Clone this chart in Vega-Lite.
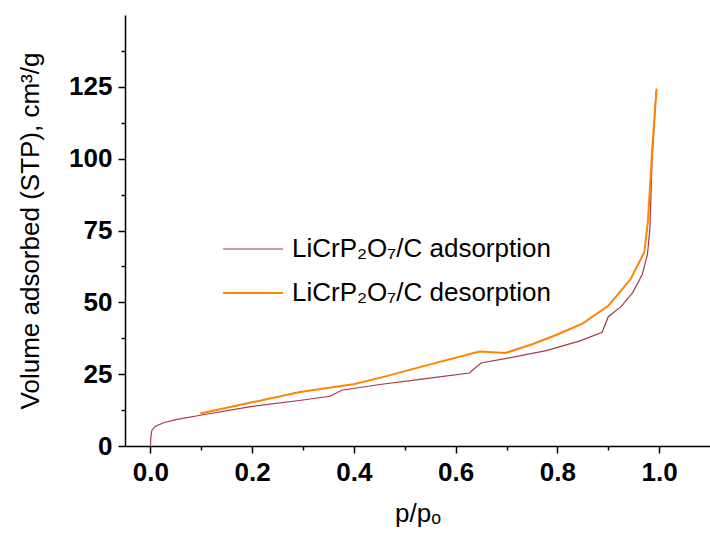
{
  "$schema": "https://vega.github.io/schema/vega-lite/v6.json",
  "autosize": {"type": "none"},
  "padding": {"left": 125, "top": 15, "right": 0, "bottom": 92},
  "width": 585,
  "height": 431,
  "background": "white",
  "config": {
    "view": {"stroke": null},
    "font": "Liberation Sans"
  },
  "data": {
    "values": [
      {"p": 0.0, "v": 0.0, "series": "LiCrP₂O₇/C adsorption"},
      {"p": 0.001, "v": 3.5, "series": "LiCrP₂O₇/C adsorption"},
      {"p": 0.003, "v": 5.5, "series": "LiCrP₂O₇/C adsorption"},
      {"p": 0.01, "v": 6.9, "series": "LiCrP₂O₇/C adsorption"},
      {"p": 0.026, "v": 8.1, "series": "LiCrP₂O₇/C adsorption"},
      {"p": 0.05, "v": 9.2, "series": "LiCrP₂O₇/C adsorption"},
      {"p": 0.098, "v": 10.7, "series": "LiCrP₂O₇/C adsorption"},
      {"p": 0.2, "v": 13.8, "series": "LiCrP₂O₇/C adsorption"},
      {"p": 0.3, "v": 16.0, "series": "LiCrP₂O₇/C adsorption"},
      {"p": 0.353, "v": 17.3, "series": "LiCrP₂O₇/C adsorption"},
      {"p": 0.376, "v": 19.4, "series": "LiCrP₂O₇/C adsorption"},
      {"p": 0.451, "v": 21.4, "series": "LiCrP₂O₇/C adsorption"},
      {"p": 0.53, "v": 23.2, "series": "LiCrP₂O₇/C adsorption"},
      {"p": 0.627, "v": 25.4, "series": "LiCrP₂O₇/C adsorption"},
      {"p": 0.65, "v": 28.9, "series": "LiCrP₂O₇/C adsorption"},
      {"p": 0.7, "v": 30.5, "series": "LiCrP₂O₇/C adsorption"},
      {"p": 0.778, "v": 33.2, "series": "LiCrP₂O₇/C adsorption"},
      {"p": 0.843, "v": 36.5, "series": "LiCrP₂O₇/C adsorption"},
      {"p": 0.888, "v": 39.6, "series": "LiCrP₂O₇/C adsorption"},
      {"p": 0.9, "v": 45.0, "series": "LiCrP₂O₇/C adsorption"},
      {"p": 0.925, "v": 48.5, "series": "LiCrP₂O₇/C adsorption"},
      {"p": 0.948, "v": 53.4, "series": "LiCrP₂O₇/C adsorption"},
      {"p": 0.967, "v": 59.8, "series": "LiCrP₂O₇/C adsorption"},
      {"p": 0.977, "v": 66.7, "series": "LiCrP₂O₇/C adsorption"},
      {"p": 0.982, "v": 75.9, "series": "LiCrP₂O₇/C adsorption"},
      {"p": 0.986, "v": 99.0, "series": "LiCrP₂O₇/C adsorption"},
      {"p": 0.99, "v": 110.6, "series": "LiCrP₂O₇/C adsorption"},
      {"p": 0.994, "v": 123.5, "series": "LiCrP₂O₇/C adsorption"},
      {"p": 0.098, "v": 11.3, "series": "LiCrP₂O₇/C desorption"},
      {"p": 0.2, "v": 15.2, "series": "LiCrP₂O₇/C desorption"},
      {"p": 0.294, "v": 18.8, "series": "LiCrP₂O₇/C desorption"},
      {"p": 0.399, "v": 21.5, "series": "LiCrP₂O₇/C desorption"},
      {"p": 0.451, "v": 23.7, "series": "LiCrP₂O₇/C desorption"},
      {"p": 0.55, "v": 28.4, "series": "LiCrP₂O₇/C desorption"},
      {"p": 0.647, "v": 32.9, "series": "LiCrP₂O₇/C desorption"},
      {"p": 0.698, "v": 32.4, "series": "LiCrP₂O₇/C desorption"},
      {"p": 0.752, "v": 35.5, "series": "LiCrP₂O₇/C desorption"},
      {"p": 0.8, "v": 38.8, "series": "LiCrP₂O₇/C desorption"},
      {"p": 0.85, "v": 42.7, "series": "LiCrP₂O₇/C desorption"},
      {"p": 0.9, "v": 48.8, "series": "LiCrP₂O₇/C desorption"},
      {"p": 0.944, "v": 58.1, "series": "LiCrP₂O₇/C desorption"},
      {"p": 0.971, "v": 67.5, "series": "LiCrP₂O₇/C desorption"},
      {"p": 0.978, "v": 78.2, "series": "LiCrP₂O₇/C desorption"},
      {"p": 0.987, "v": 104.8, "series": "LiCrP₂O₇/C desorption"},
      {"p": 0.995, "v": 124.4, "series": "LiCrP₂O₇/C desorption"}
    ]
  },
  "mark": {"type": "line", "clip": true},
  "encoding": {
    "x": {
      "field": "p", "type": "quantitative",
      "scale": {"domain": [-0.05, 1.1], "nice": false, "zero": false},
      "axis": {
        "title": "p/pₒ",
        "values": [0, 0.1, 0.2, 0.3, 0.4, 0.5, 0.6, 0.7, 0.8, 0.9, 1.0],
        "labelExpr": "abs(round(datum.value*10)) % 2 == 0 ? format(datum.value, '.1f') : ''",
        "grid": false,
        "domainColor": "black", "domainWidth": 1.5,
        "tickColor": "black", "tickWidth": 1.5,
        "tickSize": {"condition": {"test": "abs(round(datum.value*10)) % 2 == 0", "value": 7}, "value": 4},
        "labelFontSize": 26, "labelFontWeight": "bold", "labelColor": "black",
        "labelPadding": 6, "labelFlush": false, "labelOverlap": false,
        "titleFontSize": 26, "titleFontWeight": "normal", "titleColor": "black",
        "titlePadding": 15
      }
    },
    "y": {
      "field": "v", "type": "quantitative",
      "scale": {"domain": [0, 150], "nice": false},
      "axis": {
        "title": "Volume adsorbed (STP), cm³/g",
        "values": [0, 12.5, 25, 37.5, 50, 62.5, 75, 87.5, 100, 112.5, 125, 137.5],
        "labelExpr": "datum.value % 25 == 0 ? format(datum.value, 'd') : ''",
        "grid": false,
        "domainColor": "black", "domainWidth": 1.5,
        "tickColor": "black", "tickWidth": 1.5,
        "tickSize": {"condition": {"test": "datum.value % 25 == 0", "value": 7}, "value": 4},
        "labelFontSize": 26, "labelFontWeight": "bold", "labelColor": "black",
        "labelPadding": 6, "labelFlush": false, "labelOverlap": false,
        "titleFontSize": 26, "titleFontWeight": "normal", "titleColor": "black",
        "titlePadding": 25
      }
    },
    "color": {
      "field": "series", "type": "nominal",
      "scale": {"domain": ["LiCrP₂O₇/C adsorption", "LiCrP₂O₇/C desorption"], "range": ["#a33a44", "#ff8400"]},
      "legend": {
        "title": null, "orient": "none", "legendX": 97, "legendY": 203,
        "symbolType": "stroke", "symbolSize": 3600, "symbolStrokeWidth": 1.5,
        "labelFontSize": 26, "labelColor": "black", "labelOffset": 8,
        "rowPadding": -22, "labelLimit": 500
      }
    },
    "strokeWidth": {
      "field": "series", "type": "nominal",
      "scale": {"domain": ["LiCrP₂O₇/C adsorption", "LiCrP₂O₇/C desorption"], "range": [1.2, 2]},
      "legend": null
    }
  }
}
